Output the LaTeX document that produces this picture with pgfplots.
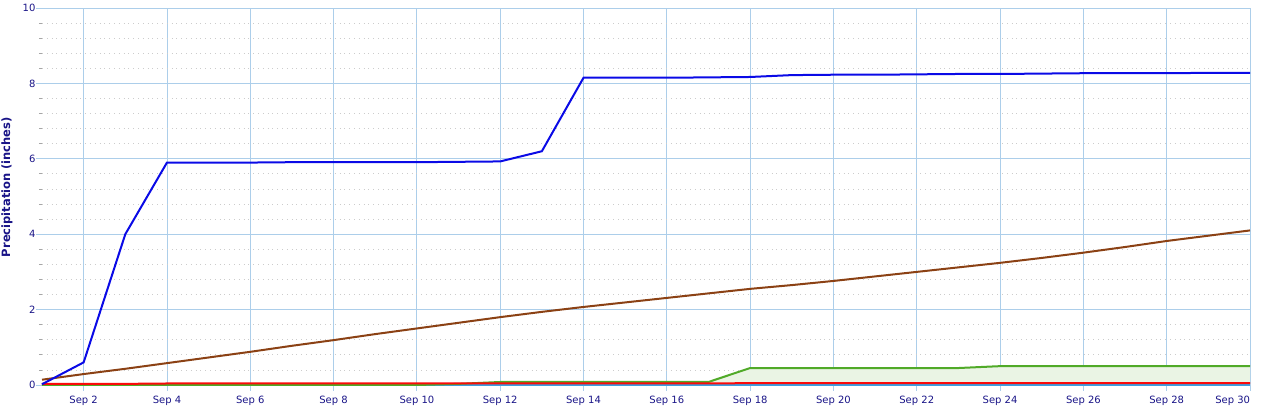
\documentclass[border=0pt]{standalone}
\usepackage{pgfplots}
\pgfplotsset{compat=1.18}
\usepackage{fontspec}
\setmainfont{DejaVu Sans}
\definecolor{navy}{RGB}{25,20,135}
\definecolor{gridblue}{RGB}{172,206,234}
\definecolor{baseblue}{RGB}{60,160,225}
\definecolor{actblue}{RGB}{10,10,230}
\definecolor{brownline}{RGB}{139,65,20}
\definecolor{greenline}{RGB}{80,170,40}
\definecolor{greenfill}{RGB}{234,244,228}
\definecolor{redline}{RGB}{250,10,10}
\begin{document}
\begin{tikzpicture}
\path[use as bounding box] (-42pt,-32pt) rectangle (1220pt,385pt);
\begin{axis}[
  at={(0,0)}, anchor=south west,
  scale only axis, width=1208pt, height=377pt,
  xmin=1, xmax=30, ymin=0, ymax=10,
  xtick={2,4,...,30},
  xticklabels={Sep 2,Sep 4,Sep 6,Sep 8,Sep 10,Sep 12,Sep 14,Sep 16,Sep 18,Sep 20,Sep 22,Sep 24,Sep 26,Sep 28,{\llap{Sep 30}}},
  ytick={0,2,...,10},
  minor y tick num=4,
  grid=both,
  major grid style={gridblue, line width=0.8pt},
  minor grid style={gray!40, line width=0.8pt, dash pattern=on 0.8pt off 4pt},
  axis line style={draw=none},
  tick align=outside,
  major tick length=6pt,
  minor tick length=3pt,
  major tick style={gridblue, line width=0.8pt},
  minor tick style={gray!70, line width=0.8pt},
  xtick pos=bottom, ytick pos=left,
  tick label style={font=\fontsize{10}{12}\selectfont, text=navy},
  xticklabel style={yshift=-2pt},
  yticklabel style={xshift=3pt},
  /pgf/number format/assume math mode=true,
  ylabel={Precipitation (inches)},
  every axis y label/.style={at={(axis description cs:-0.029,0.525)}, rotate=90, anchor=center, font=\bfseries\fontsize{11.5}{13}\selectfont, text=navy},
  clip=false,
]
\addplot[fill=greenfill, draw=none] coordinates {
(1,0) (2,0) (3,0) (4,0) (5,0) (6,0) (7,0) (8,0) (9,0) (10,0) (11,0.03) (12,0.08)
(13,0.08) (14,0.08) (15,0.08) (16,0.08) (17,0.08) (18,0.45) (19,0.45) (20,0.45)
(21,0.45) (22,0.45) (23,0.45) (24,0.50) (25,0.50) (26,0.50) (27,0.50) (28,0.50) (29,0.50) (30,0.50)} \closedcycle;
\addplot[baseblue, line width=2pt] coordinates {(1,0) (30,0)};
\addplot[greenline, line width=2pt] coordinates {
(1,0) (2,0) (3,0) (4,0) (5,0) (6,0) (7,0) (8,0) (9,0) (10,0) (11,0.03) (12,0.08)
(13,0.08) (14,0.08) (15,0.08) (16,0.08) (17,0.08) (18,0.45) (19,0.45) (20,0.45)
(21,0.45) (22,0.45) (23,0.45) (24,0.50) (25,0.50) (26,0.50) (27,0.50) (28,0.50) (29,0.50) (30,0.50)};
\addplot[redline, line width=2pt] coordinates {
(1,0.03) (2,0.03) (3,0.03) (4,0.04) (5,0.04) (6,0.04) (7,0.04) (8,0.04) (9,0.04) (10,0.04) (11,0.04) (12,0.04)
(13,0.04) (14,0.04) (15,0.04) (16,0.04) (17,0.04) (18,0.05) (19,0.05) (20,0.05)
(21,0.05) (22,0.05) (23,0.05) (24,0.05) (25,0.05) (26,0.05) (27,0.05) (28,0.05) (29,0.05) (30,0.05)};
\addplot[brownline, line width=2pt] coordinates {
(1,0.14) (2,0.29) (3,0.43) (4,0.58) (5,0.73) (6,0.88) (7,1.04) (8,1.19) (9,1.35) (10,1.50)
(11,1.65) (12,1.80) (13,1.94) (14,2.07) (15,2.19) (16,2.31) (17,2.43) (18,2.55) (19,2.65) (20,2.76)
(21,2.88) (22,3.00) (23,3.12) (24,3.24) (25,3.37) (26,3.51) (27,3.66) (28,3.82) (29,3.96) (30,4.10)};
\addplot[actblue, line width=2pt] coordinates {
(1,0.02) (2,0.60) (3,4.00) (4,5.90) (5,5.90) (6,5.90) (7,5.91) (8,5.91) (9,5.91) (10,5.91)
(11,5.92) (12,5.93) (13,6.20) (14,8.15) (15,8.15) (16,8.15) (17,8.16) (18,8.17) (19,8.22) (20,8.23)
(21,8.23) (22,8.24) (23,8.25) (24,8.25) (25,8.26) (26,8.27) (27,8.27) (28,8.27) (29,8.28) (30,8.28)};
\end{axis}
\end{tikzpicture}
\end{document}
